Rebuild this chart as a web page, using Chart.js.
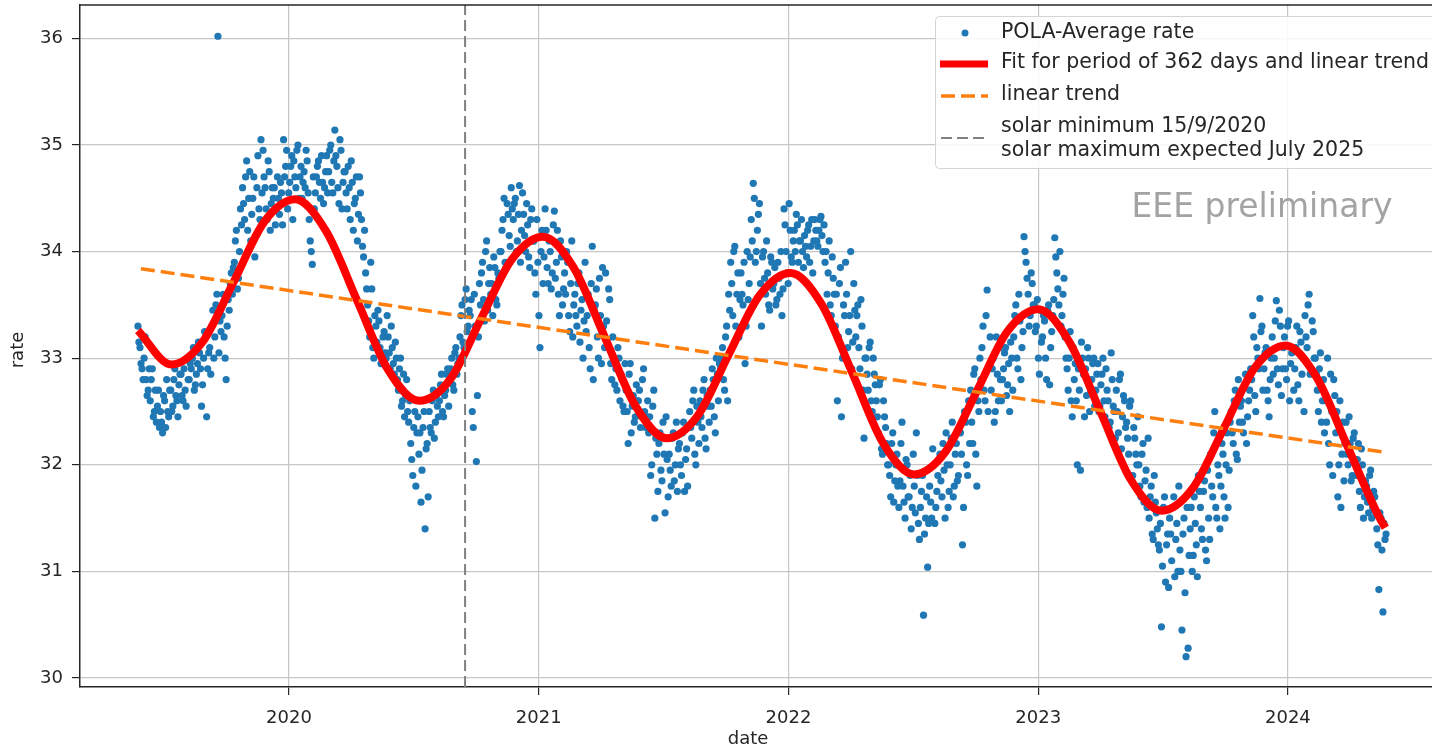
<!DOCTYPE html>
<html>
<head>
<meta charset="utf-8">
<title>POLA-Average rate</title>
<script src="https://cdn.jsdelivr.net/npm/chart.js@4.4.1/dist/chart.umd.min.js"></script>
<style>
    html, body { margin: 0; padding: 0; background: #fff; }
    #wrap { width: 1432px; height: 749px; }
</style>
</head>
<body>
<div id="wrap"><canvas id="rateChart" width="1432" height="749"></canvas></div>
<script>
// ========================================
// Data
// ========================================

// axes
const xTickYears = [2020, 2021, 2022, 2023, 2024];
const yTickValues = [30, 31, 32, 33, 34, 35, 36];
const xMin = 2019.163, xMax = 2024.577;
const yMin = 29.916, yMax = 36.313;

// rate samples: one value every 3 days starting at firstDay (decimal year),
// the "Mid" lists are the samples half way between them
const firstDay = 2019.395;
const stepYears = 3 / 365.25;

const rate2019a = [33.3, 33.1, 32.9, 33.0, 32.8, 32.7, 32.6, 32.9, 32.5, 32.4, 32.7, 32.5, 32.3, 32.6, 32.8, 32.45,
    32.7, 32.55, 32.9, 32.6, 32.75, 32.85, 32.6, 32.7, 33.0, 32.8, 32.9, 33.1, 32.75, 32.95, 33.05,
    32.55, 33.0, 33.2, 32.9, 33.1, 33.3, 33.0, 33.5, 36.02, 33.35, 33.4, 33.2, 32.8, 33.55, 33.7,
    33.6, 33.9, 34.2, 33.75, 34.4, 34.6, 34.3, 34.85, 34.5, 34.1, 34.5, 33.95, 34.6, 34.4, 35.05];
const rate2019b = [34.95, 34.6, 34.3, 34.75, 34.45, 34.5, 34.25, 34.7, 34.35, 34.55, 35.05, 34.8, 34.4, 34.65, 34.9,
    34.85, 34.6, 35.0, 34.7, 34.5, 34.75, 34.95, 34.55, 34.1, 33.88, 34.4, 34.7, 34.85, 34.5, 34.65,
    34.6, 34.9, 34.75, 35.0, 34.55, 35.14, 34.8, 34.45, 34.95, 34.65, 34.75, 34.4, 34.6, 34.85, 34.2,
    34.5, 34.1, 34.7, 34.3, 33.95, 33.8, 33.5, 33.2, 33.65, 33.0, 33.3, 33.45, 33.1, 32.95, 33.25, 33.0];
const rate2020a = [33.2, 32.9, 33.1, 32.85, 33.0, 32.7, 33.0, 32.6, 32.45, 32.8, 32.4, 32.2, 31.9, 32.5, 32.3,
    32.1, 31.65, 32.35, 31.4, 32.2, 32.5, 32.3, 32.7, 32.4, 32.55, 32.6, 32.85, 32.45, 32.7, 32.9,
    32.8, 33.0, 32.7, 33.1, 32.95, 33.2, 33.5, 33.1, 33.65, 33.3, 33.4, 32.5, 33.6, 32.03, 33.2,
    33.5, 33.9, 33.35, 34.1, 33.7, 33.6, 33.4, 33.85, 33.5, 33.75, 34.0, 34.3, 33.9, 34.45, 34.15, 34.6];
const rate2020b = [34.3, 34.5, 34.1, 34.62, 34.2, 34.35, 34.0, 34.25, 33.85, 34.4, 34.1, 33.6, 33.9, 33.1, 34.2,
    33.95, 34.2, 33.7, 34.0, 33.8, 34.38, 33.9, 33.6, 34.1, 33.5, 33.8, 34.0, 33.4, 33.7, 33.2,
    33.6, 33.3, 33.8, 33.45, 33.0, 33.9, 33.4, 33.1, 33.7, 32.8, 33.5, 33.2, 33.75, 32.95, 33.3,
    33.8, 33.1, 33.55, 32.8, 33.0, 32.9, 33.1, 32.6, 32.8, 32.5, 32.7, 32.2, 32.95, 32.55, 32.4, 32.75];
const rate2021a = [32.6, 32.35, 32.8, 32.5, 32.45, 32.3, 31.9, 32.55, 31.5, 32.1, 32.2, 31.95, 32.4, 31.55, 32.05,
    32.1, 31.8, 32.3, 32.0, 31.75, 32.2, 31.9, 32.4, 32.05, 31.8, 32.5, 32.25, 32.7, 32.0, 32.4,
    32.6, 32.35, 32.8, 32.15, 32.55, 32.7, 32.9, 32.45, 33.0, 32.6, 32.9, 33.1, 32.7, 33.3, 33.6,
    33.9, 33.4, 34.05, 33.6, 33.2, 33.8, 33.5, 32.95, 34.0, 33.7, 34.3, 34.64, 33.9, 34.2, 34.45, 33.3];
const rate2021b = [34.0, 33.6, 33.8, 33.45, 33.9, 33.7, 33.5, 33.9, 33.6, 33.4, 34.4, 34.0, 33.7, 34.2, 33.9,
    34.2, 34.35, 33.9, 34.1, 34.0, 34.15, 33.95, 34.25, 34.05, 33.8, 34.3, 34.1, 34.2, 34.33, 34.0,
    33.9, 33.6, 34.1, 33.4, 33.75, 33.3, 32.6, 33.7, 32.45, 33.5, 33.9, 33.1, 33.4, 32.9, 33.7,
    33.2, 33.5, 32.9, 33.3, 32.25, 33.0, 32.7, 33.15, 32.5, 32.85, 32.6, 32.3, 32.8, 32.1, 32.45, 32.2];
const rate2022a = [32.0, 31.7, 32.3, 31.85, 32.1, 31.6, 32.2, 31.8, 31.5, 32.0, 31.7, 31.4, 32.1, 31.55, 31.9,
    31.3, 31.75, 30.59, 31.5, 31.04, 31.8, 31.5, 32.0, 31.6, 31.9, 32.1, 31.7, 31.95, 32.3, 31.6,
    32.0, 32.4, 31.8, 32.2, 31.9, 32.3, 31.25, 32.5, 32.0, 32.6, 32.7, 32.2, 32.9, 31.8, 32.5,
    32.8, 33.3, 32.6, 33.64, 32.9, 32.7, 33.0, 32.5, 32.85, 33.1, 32.6, 32.9, 33.1, 32.75, 32.5, 33.0];
const rate2022b = [33.2, 33.5, 32.9, 33.35, 33.1, 34.14, 33.9, 33.6, 33.4, 33.7, 33.5, 33.3, 33.0, 33.45, 33.2,
    33.35, 32.8, 33.5, 33.1, 33.4, 34.13, 33.8, 33.5, 33.3, 33.6, 33.2, 32.9, 33.0, 32.6, 33.1,
    32.95, 32.0, 32.7, 33.15, 32.85, 32.9, 33.1, 32.5, 32.8, 33.0, 32.7, 32.95, 32.55, 32.85, 32.6,
    32.9, 32.6, 32.4, 32.8, 32.5, 32.7, 32.3, 32.85, 32.45, 32.6, 32.4, 32.1, 32.6, 31.9, 32.25, 32.0];
const rate2023a = [32.0, 31.7, 32.2, 31.85, 31.6, 31.5, 31.8, 31.3, 31.65, 31.4, 31.2, 30.48, 31.6, 30.9, 31.35,
    31.5, 31.1, 31.7, 31.3, 31.0, 31.2, 30.45, 31.5, 30.2, 30.28, 31.4, 31.0, 31.7, 31.25, 31.9,
    31.6, 31.3, 31.85, 31.1, 31.5, 32.1, 31.7, 32.5, 31.5, 31.9, 31.8, 32.1, 31.5, 32.3, 31.95,
    32.5, 32.2, 32.7, 32.05, 32.4, 32.6, 32.3, 32.85, 32.45, 32.7, 32.8, 33.2, 32.5, 33.0, 33.56, 33.3];
const rate2023b = [32.9, 33.1, 32.6, 32.8, 33.2, 33.0, 33.54, 32.75, 33.3, 32.9, 33.2, 32.8, 33.35, 32.95, 33.1,
    32.9, 33.3, 32.6, 33.15, 33.0, 33.4, 33.1, 33.6, 32.9, 33.25, 33.0, 32.7, 32.9, 32.4, 32.8,
    32.6, 33.0, 32.0, 32.5, 32.8, 32.3, 31.7, 32.6, 32.1, 31.85, 32.4, 32.0, 32.2, 31.9, 32.3,
    31.9, 32.2, 31.6, 32.0, 31.7, 31.8, 31.55, 31.95, 31.6, 31.7, 31.4, 30.83, 31.5, 30.62, 31.3];

const rate2019aMid = [33.15, 32.95, 32.8, 33.2, 32.65, 32.9, 32.8, 32.45, 32.7, 32.55, 32.35, 32.4, 32.65, 32.35, 32.5, 32.7,
    32.5, 32.8, 32.65, 32.45, 32.85, 32.65, 32.9, 32.55, 32.8, 32.95, 33.0, 32.7, 32.85, 33.15, 32.9,
    32.75, 33.25, 32.45, 33.05, 32.85, 33.45, 33.2, 33.6, 33.05, 33.25, 33.6, 33.0, 33.3, 33.45, 33.8,
    33.85, 34.1, 33.65, 34.0, 34.25, 34.45, 34.7, 34.2, 34.75, 34.35, 34.7, 34.15, 34.9, 34.3, 34.55];
const rate2019bMid = [34.7, 34.4, 34.85, 34.2, 34.6, 34.6, 34.4, 34.5, 34.65, 34.25, 34.7, 34.95, 34.55, 34.8, 34.3,
    34.7, 34.95, 34.5, 34.8, 34.65, 34.6, 34.85, 34.3, 34.0, 34.7, 34.55, 34.8, 34.65, 34.9, 34.45,
    34.75, 34.55, 34.95, 34.65, 34.85, 34.9, 34.6, 35.05, 34.4, 34.75, 34.55, 34.8, 34.3, 34.65, 34.45,
    34.7, 34.35, 34.55, 34.05, 34.2, 33.65, 33.35, 33.9, 33.1, 33.4, 33.15, 33.35, 32.95, 33.2, 33.05, 33.4];
const rate2020aMid = [33.05, 33.3, 32.95, 33.15, 32.8, 32.9, 32.55, 32.85, 32.65, 32.5, 32.6, 32.05, 32.35, 31.8, 32.45,
    32.3, 31.95, 32.5, 32.15, 31.7, 32.35, 32.6, 32.25, 32.65, 32.45, 32.75, 32.5, 32.65, 32.85, 32.55,
    32.9, 32.75, 33.05, 32.85, 33.0, 33.4, 33.15, 33.55, 33.25, 33.45, 33.55, 32.35, 33.3, 32.65, 33.7,
    33.8, 33.55, 34.0, 33.45, 33.85, 33.7, 33.95, 33.55, 33.8, 34.0, 34.2, 34.5, 33.85, 34.35, 34.05, 34.4];
const rate2020bMid = [34.45, 34.0, 34.35, 33.9, 34.55, 34.15, 34.45, 33.95, 34.3, 34.1, 33.8, 34.3, 33.4, 34.0, 33.7,
    34.4, 33.85, 34.1, 33.65, 34.25, 33.75, 34.2, 33.4, 33.95, 33.65, 33.6, 33.9, 33.25, 34.1, 33.5,
    33.4, 33.7, 33.15, 33.55, 33.35, 33.25, 33.6, 32.9, 34.05, 33.45, 33.65, 33.0, 33.4, 33.85, 33.1,
    33.35, 33.65, 32.95, 33.2, 32.75, 32.7, 33.0, 32.85, 32.55, 32.95, 32.5, 32.85, 32.3, 32.65, 32.45, 32.6];
const rate2021aMid = [32.7, 32.45, 32.9, 32.35, 32.6, 32.45, 32.0, 32.7, 32.25, 31.75, 32.3, 31.85, 32.1, 32.45, 31.7,
    31.95, 32.25, 31.85, 32.4, 32.15, 32.0, 32.3, 31.75, 32.15, 32.35, 32.35, 32.6, 32.1, 32.55, 32.2,
    32.45, 32.7, 32.25, 32.65, 32.4, 32.55, 32.8, 32.3, 32.85, 32.95, 33.0, 32.8, 33.2, 32.6, 33.45,
    33.7, 34.0, 33.3, 33.8, 33.55, 33.6, 33.9, 33.3, 33.55, 33.95, 34.1, 34.5, 34.0, 34.35, 33.7, 33.95];
const rate2021bMid = [33.75, 34.1, 33.5, 33.95, 33.65, 33.85, 33.55, 33.75, 34.0, 33.65, 34.25, 33.8, 34.45, 33.95, 34.1,
    34.0, 34.25, 34.1, 34.3, 33.85, 34.05, 34.2, 33.9, 34.3, 34.1, 34.2, 34.05, 34.3, 34.15, 34.25,
    34.0, 33.8, 33.5, 33.95, 33.6, 33.6, 33.2, 33.85, 33.0, 33.4, 33.6, 33.25, 34.0, 33.15, 33.45,
    33.4, 33.1, 33.55, 32.7, 33.0, 32.85, 33.1, 32.6, 33.0, 32.75, 32.45, 32.75, 32.15, 32.6, 32.35, 32.0];
const rate2022aMid = [31.9, 32.2, 31.65, 32.0, 31.8, 31.85, 32.4, 31.65, 32.05, 31.7, 31.9, 31.6, 31.8, 32.3, 31.45,
    31.6, 31.9, 31.35, 31.7, 31.45, 31.65, 32.15, 31.45, 31.75, 32.05, 31.85, 32.2, 31.5, 32.0, 31.75,
    32.25, 31.7, 32.1, 31.85, 32.35, 32.1, 31.6, 32.4, 31.9, 32.2, 32.4, 32.85, 32.1, 32.6, 33.0,
    33.1, 32.7, 33.4, 32.5, 33.2, 32.9, 32.4, 33.2, 32.6, 32.8, 32.8, 33.05, 32.65, 32.95, 33.15, 32.7];
const rate2022bMid = [33.4, 33.0, 33.6, 32.8, 33.25, 34.0, 33.75, 33.3, 33.8, 33.5, 33.25, 33.55, 32.85, 33.15, 33.4,
    33.0, 33.45, 32.75, 33.25, 33.55, 33.95, 33.65, 34.0, 33.4, 33.75, 33.0, 32.7, 33.25, 32.45, 32.8,
    32.6, 32.9, 31.95, 33.0, 32.45, 32.65, 33.0, 32.7, 32.95, 32.55, 32.85, 32.5, 32.75, 33.0, 32.45,
    32.7, 32.35, 33.05, 32.55, 32.25, 32.5, 32.8, 32.15, 32.65, 32.35, 32.25, 32.55, 31.85, 32.35, 32.1, 32.45];
const rate2023aMid = [31.8, 32.1, 31.65, 31.95, 32.25, 31.7, 31.35, 31.9, 31.55, 31.25, 31.45, 31.05, 31.7, 31.25, 30.85,
    31.35, 31.6, 30.95, 31.45, 31.8, 31.0, 31.35, 30.8, 31.6, 31.15, 31.6, 31.15, 31.45, 30.95, 31.75,
    31.4, 31.75, 31.2, 31.95, 31.3, 31.8, 32.3, 31.6, 32.0, 31.4, 32.2, 31.7, 32.0, 31.6, 32.4,
    32.3, 32.6, 32.1, 32.8, 32.55, 32.4, 32.75, 32.2, 32.6, 32.9, 33.4, 32.65, 33.1, 32.9, 33.25, 32.7];
const rate2023bMid = [33.05, 32.7, 32.45, 33.0, 32.85, 33.35, 32.9, 33.45, 32.65, 33.1, 32.9, 33.3, 32.6, 33.05, 32.7,
    33.1, 32.75, 33.25, 32.85, 32.5, 33.2, 33.5, 32.85, 33.35, 33.0, 32.85, 32.5, 33.05, 32.6, 32.3,
    32.4, 32.2, 32.85, 31.9, 32.65, 32.5, 32.0, 31.6, 32.4, 32.2, 32.1, 32.45, 31.85, 32.25, 32.05,
    32.05, 31.75, 32.15, 31.5, 31.85, 31.65, 31.9, 31.5, 31.75, 31.55, 31.25, 31.55, 31.2, 31.45, 31.35];

// fitted curve (period of 362 days + linear trend), read at 1/8 period steps
const fitDates = [2019.395, 2019.529, 2019.653, 2019.777, 2019.901, 2020.025, 2020.149, 2020.273, 2020.397,
    2020.521, 2020.645, 2020.769, 2020.893, 2021.017, 2021.140, 2021.264, 2021.388, 2021.512, 2021.636,
    2021.760, 2021.884, 2022.008, 2022.132, 2022.256, 2022.380, 2022.504, 2022.628, 2022.752, 2022.876,
    2023.000, 2023.123, 2023.247, 2023.371, 2023.495, 2023.619, 2023.743, 2023.867, 2023.991, 2024.115,
    2024.239, 2024.363, 2024.390];
const fitValues = [33.26, 32.94, 33.15, 33.71, 34.28, 34.49, 34.19, 33.54, 32.89, 32.60, 32.80, 33.37, 33.93,
    34.14, 33.85, 33.20, 32.55, 32.25, 32.46, 33.03, 33.59, 33.80, 33.51, 32.86, 32.20, 31.91, 32.12, 32.68,
    33.25, 33.46, 33.16, 32.51, 31.86, 31.57, 31.78, 32.34, 32.91, 33.12, 32.82, 32.17, 31.52, 31.41];

// linear trend end points
const trendDates = [2019.407, 2024.381];
const trendValues = [33.84, 32.12];

// solar minimum 15/9/2020
const solarMinimum = 2020.705;

// legend texts
const legendLabels = [
    'POLA-Average rate',
    'Fit for period of 362 days and linear trend',
    'linear trend',
    'solar minimum 15/9/2020',
    'solar maximum expected July 2025'
];

// ========================================
// Build points
// ========================================

const mainRates = [].concat(rate2019a, rate2019b, rate2020a, rate2020b, rate2021a, rate2021b,
    rate2022a, rate2022b, rate2023a, rate2023b);
const midRates = [].concat(rate2019aMid, rate2019bMid, rate2020aMid, rate2020bMid, rate2021aMid, rate2021bMid,
    rate2022aMid, rate2022bMid, rate2023aMid, rate2023bMid);

const ratePoints = [];
mainRates.forEach((v, i) => {
    ratePoints.push({ x: firstDay + i * stepYears, y: v });
    if (i < midRates.length) {
        ratePoints.push({ x: firstDay + (i + 0.5) * stepYears, y: midRates[i] });
    }
});
const fitPoints = fitDates.map((d, i) => ({ x: d, y: fitValues[i] }));
const trendPoints = trendDates.map((d, i) => ({ x: d, y: trendValues[i] }));
const solarPoints = [{ x: solarMinimum, y: yMin }, { x: solarMinimum, y: yMax }];

// ========================================
// Styles
// ========================================

const FONT = '"DejaVu Sans", sans-serif';
const BLUE = '#1f77b4';
const ORANGE = '#ff7f0e';
const GRID = '#c6c6c6';
const AXIS = '#262626';

// ========================================
// Extra drawing: spine, titles, watermark, legend
// ========================================

function dashLine(ctx, x1, y1, x2, y2, color, width, dash) {
    ctx.save();
    ctx.strokeStyle = color;
    ctx.lineWidth = width;
    ctx.setLineDash(dash);
    ctx.beginPath();
    ctx.moveTo(x1, y1);
    ctx.lineTo(x2, y2);
    ctx.stroke();
    ctx.restore();
}

const decorPlugin = {
    id: 'decor',
    afterDraw(chart) {
        const ctx = chart.ctx;
        const area = chart.chartArea;
        ctx.save();

        // top spine
        dashLine(ctx, area.left, area.top, area.right, area.top, AXIS, 1.5, []);

        // axis titles
        ctx.fillStyle = AXIS;
        ctx.font = '18px ' + FONT;
        ctx.textAlign = 'center';
        ctx.textBaseline = 'middle';
        ctx.fillText('date', 748, 739);
        ctx.save();
        ctx.translate(18, 350);
        ctx.rotate(-Math.PI / 2);
        ctx.fillText('rate', 0, 0);
        ctx.restore();

        // watermark
        ctx.fillStyle = '#a3a3a3';
        ctx.font = '33px ' + FONT;
        ctx.fillText('EEE preliminary', 1262, 208);

        // legend frame
        const bx = 935.5, by = 16.5, bw = 520, bh = 152, r = 4;
        ctx.beginPath();
        ctx.moveTo(bx + r, by);
        ctx.lineTo(bx + bw, by);
        ctx.lineTo(bx + bw, by + bh);
        ctx.lineTo(bx + r, by + bh);
        ctx.arcTo(bx, by + bh, bx, by + bh - r, r);
        ctx.lineTo(bx, by + r);
        ctx.arcTo(bx, by, bx + r, by, r);
        ctx.closePath();
        ctx.fillStyle = 'rgba(255,255,255,0.85)';
        ctx.fill();
        ctx.strokeStyle = '#d4d4d4';
        ctx.lineWidth = 1;
        ctx.stroke();

        // legend handles
        ctx.fillStyle = BLUE;
        ctx.beginPath();
        ctx.arc(965, 33, 3.5, 0, Math.PI * 2);
        ctx.fill();
        dashLine(ctx, 940, 64, 988, 64, 'red', 7, []);
        dashLine(ctx, 941, 96, 988, 96, ORANGE, 3.5, [14, 6]);
        dashLine(ctx, 941, 138, 988, 138, '#808080', 2, [11, 5]);

        // legend texts
        ctx.fillStyle = AXIS;
        ctx.font = '20.5px ' + FONT;
        ctx.textAlign = 'left';
        const rows = [33, 63, 95, 127, 151];
        legendLabels.forEach((t, i) => ctx.fillText(t, 1001, rows[i]));

        ctx.restore();
    }
};

// ========================================
// Chart
// ========================================

const ctx = document.getElementById('rateChart').getContext('2d');
new Chart(ctx, {
    type: 'scatter',
    data: {
        datasets: [
            {
                label: 'solar minimum',
                data: solarPoints,
                showLine: true,
                borderColor: '#808080',
                borderWidth: 2,
                borderDash: [11, 5],
                pointRadius: 0,
                order: 0
            },
            {
                label: 'linear trend',
                data: trendPoints,
                showLine: true,
                borderColor: ORANGE,
                borderWidth: 3.5,
                borderDash: [14, 6],
                pointRadius: 0,
                order: 1
            },
            {
                label: 'Fit for period of 362 days and linear trend',
                data: fitPoints,
                showLine: true,
                borderColor: 'red',
                borderWidth: 8,
                cubicInterpolationMode: 'monotone',
                pointRadius: 0,
                order: 2
            },
            {
                label: 'POLA-Average rate',
                data: ratePoints,
                pointRadius: 3.6,
                pointBackgroundColor: BLUE,
                pointBorderWidth: 0,
                order: 3
            }
        ]
    },
    options: {
        responsive: false,
        animation: false,
        devicePixelRatio: 1,
        layout: { autoPadding: false, padding: { top: 5, right: 0, left: 0, bottom: 0 } },
        plugins: {
            legend: { display: false },
            tooltip: { enabled: false }
        },
        scales: {
            x: {
                type: 'linear',
                min: xMin,
                max: xMax,
                afterBuildTicks: axis => { axis.ticks = xTickYears.map(v => ({ value: v })); },
                afterFit: scale => {
                    scale.height = 62;
                    scale.paddingLeft = 0;
                    scale.paddingRight = 0;
                },
                ticks: {
                    callback: v => String(v),
                    color: AXIS,
                    font: { family: FONT, size: 18 },
                    padding: 13,
                    maxRotation: 0
                },
                grid: { color: GRID, lineWidth: 1.2, tickLength: 8, tickColor: AXIS },
                border: { color: AXIS, width: 1.5 }
            },
            y: {
                type: 'linear',
                min: yMin,
                max: yMax,
                afterBuildTicks: axis => { axis.ticks = yTickValues.map(v => ({ value: v })); },
                afterFit: scale => {
                    scale.width = 80;
                    scale.paddingTop = 0;
                    scale.paddingBottom = 0;
                },
                ticks: {
                    callback: v => String(v),
                    color: AXIS,
                    font: { family: FONT, size: 18 },
                    padding: 9
                },
                grid: { color: GRID, lineWidth: 1.2, tickLength: 8, tickColor: AXIS },
                border: { color: AXIS, width: 1.5 }
            }
        }
    },
    plugins: [decorPlugin]
});
</script>
</body>
</html>
